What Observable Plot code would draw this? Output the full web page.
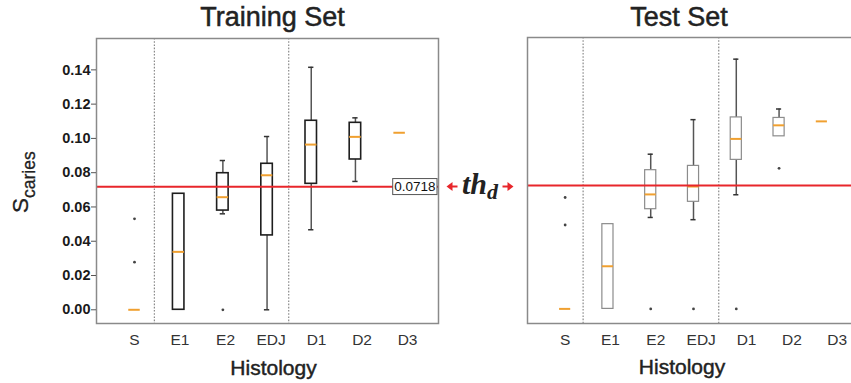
<!DOCTYPE html>
<html>
<head>
<meta charset="utf-8">
<script src="https://cdn.jsdelivr.net/npm/d3@7"></script>
<script src="https://cdn.jsdelivr.net/npm/@observablehq/plot@0.6"></script>
<style>
  html, body { margin: 0; padding: 0; background: #fff; }
  #wrap { position: relative; width: 851px; height: 383px; overflow: hidden; background: #fff; font-family: "Liberation Sans", Arial, sans-serif; }
  #wrap > .panel { position: absolute; top: 0; }
  #overlay { position: absolute; left: 0; top: 0; pointer-events: none; }
</style>
</head>
<body>
<div id="wrap"></div>
<script>
// ---------- data ----------
const categories = ["S", "E1", "E2", "EDJ", "D1", "D2", "D3"];
const yTicks = [0, 0.02, 0.04, 0.06, 0.08, 0.10, 0.12, 0.14];
const threshold = 0.0718;

// Training set (whisker low, Q1, median, Q3, whisker high)
const trainLo  = [0, 0,      0.0560, 0,      0.0467, 0.0749, 0.1033];
const trainQ1  = [0, 0,      0.0579, 0.0434, 0.0735, 0.0877, 0.1033];
const trainMed = [0, 0.0338, 0.0657, 0.0785, 0.0964, 0.1009, 0.1033];
const trainQ3  = [0, 0.0677, 0.0797, 0.0852, 0.1103, 0.1091, 0.1033];
const trainHi  = [0, 0.0677, 0.0871, 0.1011, 0.1415, 0.1120, 0.1033];
const trainOutCat = ["S", "S", "E2"];
const trainOutVal = [0.0531, 0.0278, 0];

// Test set
const testLo  = [0, 0,      0.0532, 0.0519, 0.0664, 0.1004, 0.1091];
const testQ1  = [0, 0,      0.0580, 0.0623, 0.0867, 0.1004, 0.1091];
const testMed = [0, 0.0248, 0.0666, 0.0712, 0.0989, 0.1068, 0.1091];
const testQ3  = [0, 0.0493, 0.0807, 0.0832, 0.1114, 0.1111, 0.1091];
const testHi  = [0, 0.0493, 0.0900, 0.1101, 0.1453, 0.1163, 0.1091];
const testOutCat = ["S", "S", "E2", "EDJ", "D1", "D2"];
const testOutVal = [0.0648, 0.0488, 0, 0, 0, 0.0818];

// group separators (between S | E* and E* | D*)
const trainBreaks = [0.45, 3.49];
const testBreaks  = [0.42, 3.59];

// ---------- styling ----------
const BOX = 0.13, CAP = 0.06;
const ORANGE = "#f0a030", RED = "#e8262b";

function rows(lo, q1, med, q3, hi) {
  return categories.map((c, i) => ({i, c, lo: lo[i], q1: q1[i], med: med[i], q3: q3[i], hi: hi[i]}));
}
function outs(cats, vals) {
  return cats.map((c, k) => ({i: categories.indexOf(c), v: vals[k]}));
}

function panel({data, outliers, breaks, xDomain, yDomain, width, marginLeft, marginTop, marginBottom,
                labelStretch, boxStroke, boxWidth, showY, showLabel}) {
  const marks = [
    Plot.ruleX(breaks, {stroke: "#8a8a8a", strokeWidth: 1.2, strokeDasharray: "1.6,1.6"}),
    Plot.ruleX(data.filter(d => d.hi > d.q3), {x: "i", y1: "q3", y2: "hi", stroke: "#555", strokeWidth: 1.5}),
    Plot.ruleX(data.filter(d => d.lo < d.q1), {x: "i", y1: "lo", y2: "q1", stroke: "#555", strokeWidth: 1.5}),
    Plot.ruleY(data.filter(d => d.hi > d.q3), {y: "hi", x1: d => d.i - CAP, x2: d => d.i + CAP, stroke: "#333", strokeWidth: 1.5}),
    Plot.ruleY(data.filter(d => d.lo < d.q1), {y: "lo", x1: d => d.i - CAP, x2: d => d.i + CAP, stroke: "#333", strokeWidth: 1.5}),
    Plot.rect(data.filter(d => d.q3 > d.q1), {x1: d => d.i - BOX, x2: d => d.i + BOX, y1: "q1", y2: "q3",
      fill: "white", stroke: boxStroke, strokeWidth: boxWidth}),
    Plot.ruleY(data, {y: "med", x1: d => d.i - BOX, x2: d => d.i + BOX, stroke: ORANGE, strokeWidth: 2}),
    Plot.dot(outliers, {x: "i", y: "v", r: 1.4, fill: "#444", stroke: null}),
    Plot.ruleY([threshold], {stroke: RED, strokeWidth: 1.8}),
    Plot.frame({stroke: "#8a8a8a", strokeWidth: 1.5}),
    Plot.axisX({ticks: categories.map((c, i) => i * labelStretch), tickFormat: d => categories[Math.round(d / labelStretch)],
      tickSize: 0, tickPadding: 10, label: null, fontSize: 15.5, fill: "#333"})
  ];
  if (showY) {
    marks.push(Plot.axisY({ticks: yTicks, tickFormat: d3.format(".2f"), tickSize: 5, tickPadding: 1,
      label: null, fontSize: 14.5, fontWeight: "bold", fill: "#1a1a1a", stroke: "#555"}));
  }
  if (showLabel) {
    marks.push(Plot.text([threshold], {x: xDomain[1], y: d => d, text: d => d3.format(".4f")(d),
      textAnchor: "end", dx: -3, fontSize: 13.5, fill: "#111"}));
  }
  return Plot.plot({
    width, height: 383, marginLeft, marginRight: 12, marginTop, marginBottom,
    x: {type: "linear", domain: xDomain, axis: null},
    y: {domain: yDomain, axis: null},
    style: {fontFamily: "'Liberation Sans', Arial, sans-serif", background: "transparent", overflow: "visible"},
    marks
  });
}

const wrap = document.getElementById("wrap");

const train = panel({
  data: rows(trainLo, trainQ1, trainMed, trainQ3, trainHi),
  outliers: outs(trainOutCat, trainOutVal),
  breaks: trainBreaks,
  xDomain: [-0.86, 6.88], yDomain: [-0.008, 0.1583],
  width: 450, marginLeft: 96, marginTop: 38, marginBottom: 60,
  labelStretch: 1.03, boxStroke: "#1e1e1e", boxWidth: 1.6, showY: true, showLabel: true
});
train.classList.add("panel");
train.style.left = "0px";
wrap.appendChild(train);

const test = panel({
  data: rows(testLo, testQ1, testMed, testQ3, testHi),
  outliers: outs(testOutCat, testOutVal),
  breaks: testBreaks,
  xDomain: [-0.88, 6.88], yDomain: [-0.0085, 0.1579],
  width: 431, marginLeft: 87, marginTop: 37, marginBottom: 60,
  labelStretch: 1.06, boxStroke: "#8c8c8c", boxWidth: 1.2, showY: false, showLabel: false
});
test.classList.add("panel");
test.style.left = "440px";
wrap.appendChild(test);

// white boxed background for the threshold label
const labelText = d3.format(".4f")(threshold);
const lbl = Array.from(train.querySelectorAll("text")).find(t => t.textContent === labelText);
if (lbl) {
  const bb = lbl.getBBox();
  const r = document.createElementNS("http://www.w3.org/2000/svg", "rect");
  r.setAttribute("x", bb.x - 1.5); r.setAttribute("y", bb.y - 0.5);
  r.setAttribute("width", bb.width + 3); r.setAttribute("height", bb.height + 1);
  r.setAttribute("fill", "white"); r.setAttribute("stroke", "#555"); r.setAttribute("stroke-width", "1");
  const tr = lbl.getAttribute("transform");
  if (tr) r.setAttribute("transform", tr);
  lbl.parentNode.insertBefore(r, lbl);
}

// ---------- overlay texts ----------
const NS = "http://www.w3.org/2000/svg";
const ov = document.createElementNS(NS, "svg");
ov.setAttribute("id", "overlay"); ov.setAttribute("width", 851); ov.setAttribute("height", 383);
ov.innerHTML = `
  <g font-family="Liberation Sans, Arial, sans-serif" fill="#222" stroke="#222">
    <text x="272.5" y="26" font-size="27" text-anchor="middle" stroke-width="0.5">Training Set</text>
    <text x="679" y="25.5" font-size="27" text-anchor="middle" stroke-width="0.5">Test Set</text>
    <text x="273.5" y="374.5" font-size="21" text-anchor="middle" stroke-width="0.45">Histology</text>
    <text x="682" y="374" font-size="21" text-anchor="middle" stroke-width="0.45">Histology</text>
    <text transform="translate(28,213) rotate(-90)" font-size="22.5" stroke-width="0.3">S<tspan font-size="17.5" dy="7">caries</tspan></text>
  </g>
  <g>
    <text x="462" y="193.5" font-family="Liberation Serif, Times New Roman, serif" font-weight="bold" font-style="italic" font-size="30" fill="#222">th<tspan font-size="22" dy="5">d</tspan></text>
    <g stroke="${RED}" stroke-width="2" fill="${RED}">
      <line x1="450" y1="186.5" x2="457.5" y2="186.5"/>
      <path d="M446.5 186.5 L452.5 182 L452.5 191 Z" stroke="none"/>
      <line x1="502.5" y1="186.5" x2="510" y2="186.5"/>
      <path d="M513.5 186.5 L507.5 182 L507.5 191 Z" stroke="none"/>
    </g>
  </g>`;
wrap.appendChild(ov);
</script>
</body>
</html>
